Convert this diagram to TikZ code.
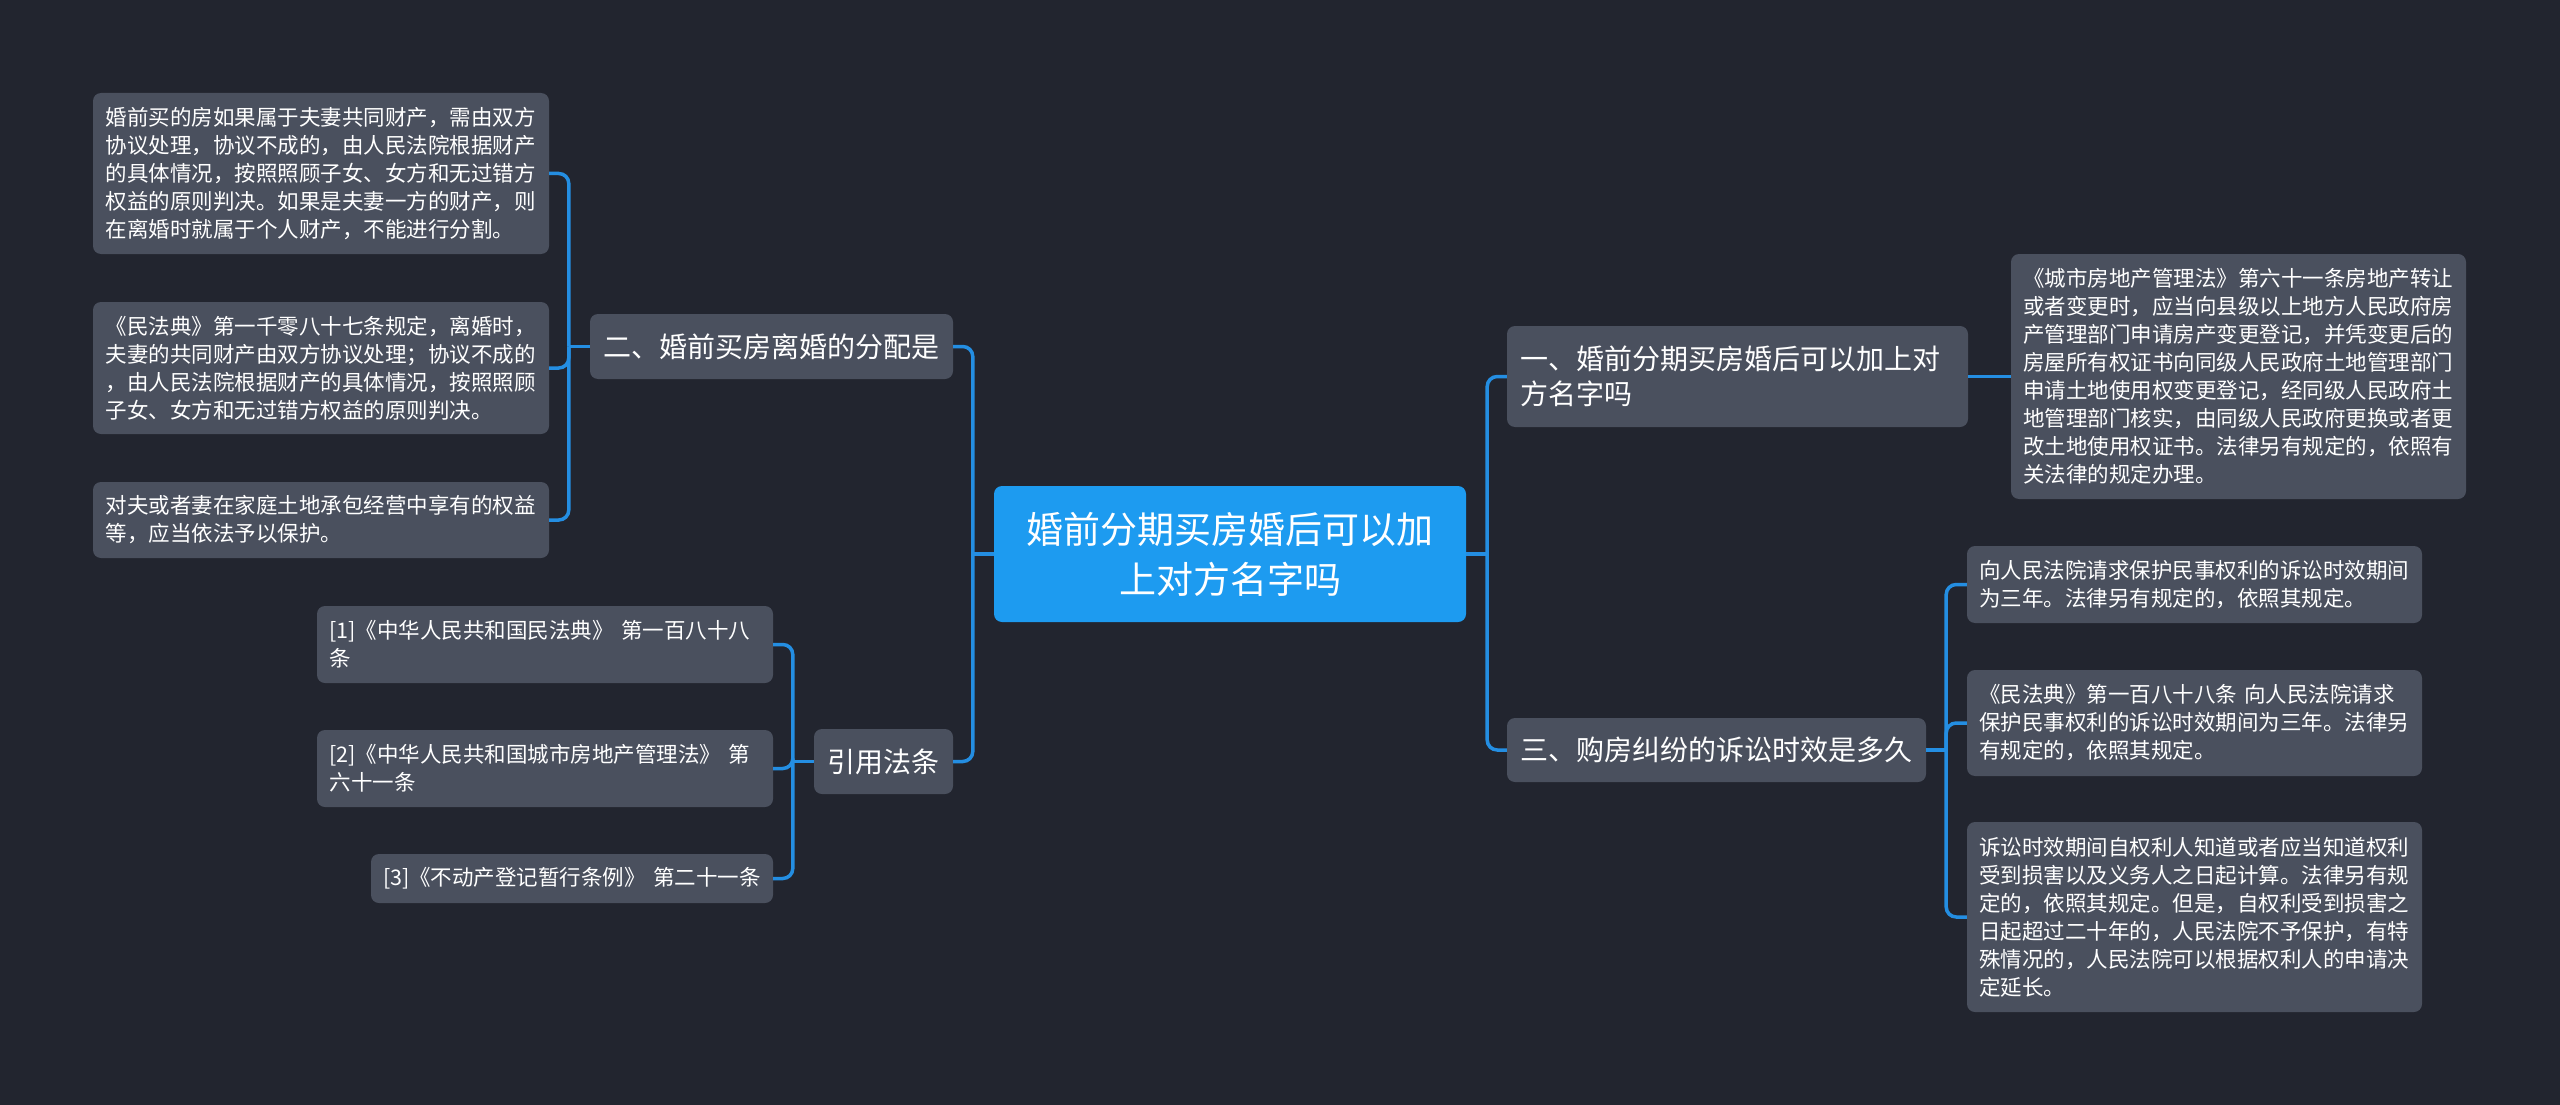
\documentclass[tikz,border=0pt]{standalone}
\usepackage{fontspec}
\setmainfont{Noto Sans CJK SC}
\definecolor{bg}{RGB}{34,37,47}
\definecolor{nodegray}{RGB}{74,80,94}
\definecolor{rootblue}{RGB}{29,155,240}
\definecolor{linkblue}{RGB}{36,142,226}
\tikzset{
  base/.style={rounded corners=8pt, fill=nodegray, text=white, inner sep=0pt, align=left},
  detail/.style={base, font=\fontsize{21.5}{28}\selectfont},
  branch/.style={base, font=\fontsize{28}{35}\selectfont},
  rootbox/.style={base, fill=rootblue, align=center, font=\fontsize{37}{50}\selectfont},
  link/.style={draw=linkblue, line width=3.5pt, rounded corners=10pt},
}
\begin{document}
\begin{tikzpicture}[x=1pt,y=-1pt]
\fill[bg] (0,0) rectangle (2560,1105);
\useasboundingbox (0,0) rectangle (2560,1105);

% root
\node[rootbox, minimum width=472pt, minimum height=136pt, text width=440pt] (root) at (1230,554)
  {婚前分期买房婚后可以加\\上对方名字吗};

% left branches
\node[branch, minimum width=363pt, minimum height=65pt, text width=337pt] (n2) at (771.5,346.5)
  {二、婚前买房离婚的分配是};
\node[branch, minimum width=139pt, minimum height=65pt, text width=113pt] (n4) at (883.5,761.5)
  {引用法条};

% right branches
\node[branch, minimum width=461pt, minimum height=101pt, text width=435pt] (n1) at (1737.5,376.5)
  {一、婚前分期买房婚后可以加上对\\方名字吗};
\node[branch, minimum width=419pt, minimum height=64pt, text width=393pt] (n3) at (1716.5,750)
  {三、购房纠纷的诉讼时效是多久};

% left details
\node[detail, minimum width=456pt, minimum height=161pt, text width=431pt] (d1) at (321,173.5)
  {婚前买的房如果属于夫妻共同财产，需由双方\\协议处理，协议不成的，由人民法院根据财产\\的具体情况，按照照顾子女、女方和无过错方\\权益的原则判决。如果是夫妻一方的财产，则\\在离婚时就属于个人财产，不能进行分割。};
\node[detail, minimum width=456pt, minimum height=132pt, text width=431pt] (d2) at (321,368)
  {《民法典》第一千零八十七条规定，离婚时，\\夫妻的共同财产由双方协议处理；协议不成的\\，由人民法院根据财产的具体情况，按照照顾\\子女、女方和无过错方权益的原则判决。};
\node[detail, minimum width=456pt, minimum height=76pt, text width=431pt] (d3) at (321,520)
  {对夫或者妻在家庭土地承包经营中享有的权益\\等，应当依法予以保护。};

% references
\node[detail, minimum width=456pt, minimum height=77pt, text width=431pt] (r1) at (545,644.5)
  {[1]《中华人民共和国民法典》 第一百八十八\\条};
\node[detail, minimum width=456pt, minimum height=77pt, text width=431pt] (r2) at (545,768.5)
  {[2]《中华人民共和国城市房地产管理法》 第\\六十一条};
\node[detail, minimum width=402pt, minimum height=49pt, text width=378pt] (r3) at (572,878.5)
  {[3]《不动产登记暂行条例》 第二十一条};

% right details
\node[detail, minimum width=455pt, minimum height=245pt, text width=431pt] (e1) at (2238.5,376.5)
  {《城市房地产管理法》第六十一条房地产转让\\或者变更时，应当向县级以上地方人民政府房\\产管理部门申请房产变更登记，并凭变更后的\\房屋所有权证书向同级人民政府土地管理部门\\申请土地使用权变更登记，经同级人民政府土\\地管理部门核实，由同级人民政府更换或者更\\改土地使用权证书。法律另有规定的，依照有\\关法律的规定办理。};
\node[detail, minimum width=455pt, minimum height=77pt, text width=431pt] (e2) at (2194.5,584.5)
  {向人民法院请求保护民事权利的诉讼时效期间\\为三年。法律另有规定的，依照其规定。};
\node[detail, minimum width=455pt, minimum height=106pt, text width=431pt] (e3) at (2194.5,723)
  {《民法典》第一百八十八条 向人民法院请求\\保护民事权利的诉讼时效期间为三年。法律另\\有规定的，依照其规定。};
\node[detail, minimum width=455pt, minimum height=190pt, text width=431pt] (e4) at (2194.5,917)
  {诉讼时效期间自权利人知道或者应当知道权利\\受到损害以及义务人之日起计算。法律另有规\\定的，依照其规定。但是，自权利受到损害之\\日起超过二十年的，人民法院不予保护，有特\\殊情况的，人民法院可以根据权利人的申请决\\定延长。};

% connectors: root to left
\draw[link] (root.west) -- ++(-21,0) coordinate (jl);
\draw[link] (jl) |- (n2.east);
\draw[link] (jl) |- (n4.east);
% root to right
\draw[link] (root.east) -- ++(21,0) coordinate (jr);
\draw[link] (jr) |- (n1.west);
\draw[link] (jr) |- (n3.west);
% n2 to details
\draw[link] (n2.west) -- ++(-21,0) coordinate (j2);
\draw[link] (j2) |- (d1.east);
\draw[link] (j2) |- (d2.east);
\draw[link] (j2) |- (d3.east);
% n4 to references
\draw[link] (n4.west) -- ++(-21,0) coordinate (j4);
\draw[link] (j4) |- (r1.east);
\draw[link] (j4) |- (r2.east);
\draw[link] (j4) |- (r3.east);
% n1 to detail
\draw[link] (n1.east) -- (e1.west);
% n3 to details
\draw[link] (n3.east) -- ++(20,0) coordinate (j3);
\draw[link] (j3) |- (e2.west);
\draw[link] (j3) |- (e3.west);
\draw[link] (j3) |- (e4.west);
\end{tikzpicture}
\end{document}
